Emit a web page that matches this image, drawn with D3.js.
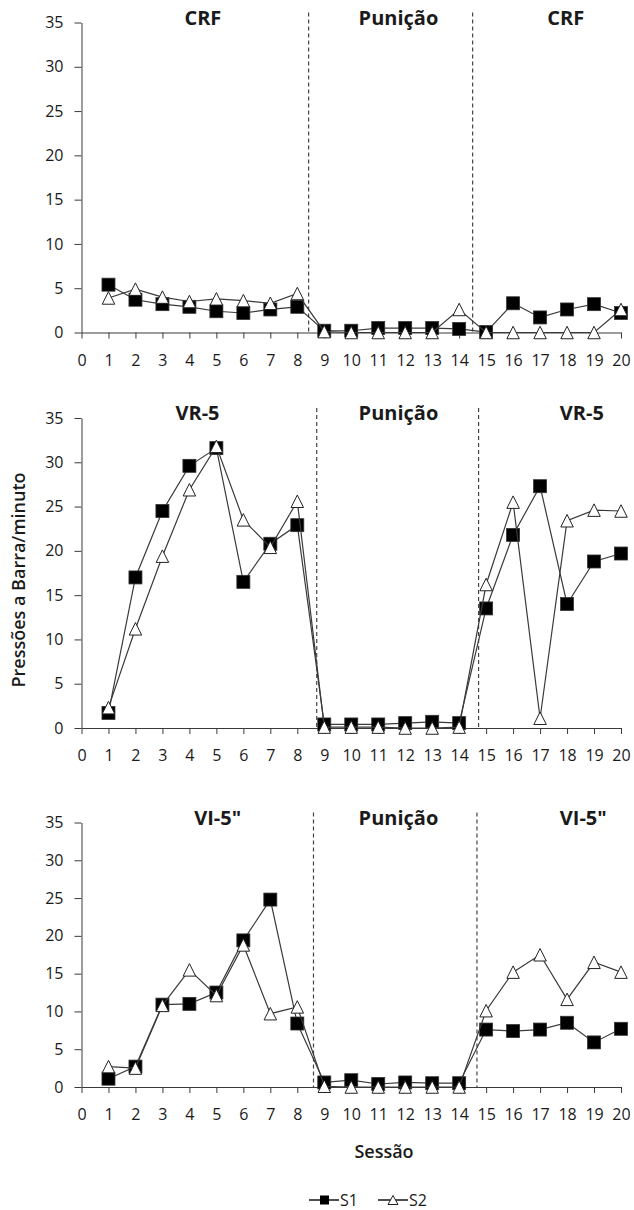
<!DOCTYPE html>
<html>
<head>
<meta charset="utf-8">
<script src="https://cdn.jsdelivr.net/npm/d3@7"></script>
<style>
  body { margin: 0; background: #fff; }
  text { font-family: "Open Sans", sans-serif; fill: #1a1a1a; }
</style>
</head>
<body>
<svg id="chart" width="634" height="1210"></svg>
<script>
// Sessions and axis ticks
const sessions = [1, 2, 3, 4, 5, 6, 7, 8, 9, 10, 11, 12, 13, 14, 15, 16, 17, 18, 19, 20];
const xTicks = [0, 1, 2, 3, 4, 5, 6, 7, 8, 9, 10, 11, 12, 13, 14, 15, 16, 17, 18, 19, 20];
const yTicks = [0, 5, 10, 15, 20, 25, 30, 35];

// Panel 1: CRF / Punição / CRF
const crfTitles = ["CRF", "Punição", "CRF"];
const crfS1 = [5.4, 3.7, 3.2, 2.9, 2.4, 2.2, 2.6, 2.9, 0.2, 0.2, 0.5, 0.5, 0.5, 0.4, 0.05, 3.3, 1.7, 2.6, 3.2, 2.2];
const crfS2 = [3.9, 4.9, 4.0, 3.5, 3.8, 3.6, 3.3, 4.4, 0.1, 0, 0, 0, 0, 2.6, 0, 0, 0, 0, 0, 2.6];

// Panel 2: VR-5 / Punição / VR-5
const vrTitles = ["VR-5", "Punição", "VR-5"];
const vrS1 = [1.7, 17.0, 24.5, 29.6, 31.6, 16.5, 20.8, 22.9, 0.4, 0.4, 0.4, 0.55, 0.7, 0.55, 13.5, 21.8, 27.3, 14.0, 18.8, 19.7];
const vrS2 = [2.3, 11.2, 19.4, 26.9, 31.8, 23.5, 20.4, 25.6, 0.1, 0.1, 0.1, 0, 0, 0.1, 16.2, 25.5, 1.1, 23.4, 24.6, 24.5];

// Panel 3: VI-5" / Punição / VI-5"
const viTitles = ["VI-5\"", "Punição", "VI-5\""];
const viS1 = [1.1, 2.7, 10.9, 11.0, 12.5, 19.4, 24.8, 8.4, 0.6, 0.9, 0.4, 0.6, 0.5, 0.5, 7.6, 7.4, 7.6, 8.5, 5.9, 7.7];
const viS2 = [2.7, 2.5, 10.8, 15.5, 12.1, 18.8, 9.7, 10.6, 0.1, 0, 0, 0, 0, 0, 10.1, 15.2, 17.5, 11.6, 16.5, 15.2];

const seriesNames = ["S1", "S2"];

// Layout of the three stacked panels (phase lines and titles in session units)
const panels = [
  { titles: crfTitles, s1: crfS1, s2: crfS2, top: 22.5, bottom: 332.5, breaks: [8.42, 14.5], titleX: [4.5, 11.75, 17.95] },
  { titles: vrTitles, s1: vrS1, s2: vrS2, top: 418, bottom: 728, breaks: [8.72, 14.72], titleX: [4.3, 11.75, 18.55] },
  { titles: viTitles, s1: viS1, s2: viS2, top: 822.5, bottom: 1087, breaks: [8.6, 14.66], titleX: [5.05, 11.75, 18.6] }
];

const svg = d3.select("#chart");
const x = d3.scaleLinear().domain([0, 20]).range([81.5, 621]);
const lineColor = "#3a3a3a";

function trianglePath(w, h) {
  return `M0,${-h / 2}L${w / 2},${h / 2}L${-w / 2},${h / 2}Z`;
}

panels.forEach(p => {
  const y = d3.scaleLinear().domain([0, 35]).range([p.bottom, p.top]);
  const g = svg.append("g");

  // Y axis
  const yAxis = g.append("g")
    .attr("transform", `translate(${x(0)},0)`)
    .call(d3.axisLeft(y).tickValues(yTicks).tickSize(7).tickPadding(11).tickSizeOuter(0));
  yAxis.select(".domain").attr("stroke", lineColor);
  yAxis.selectAll(".tick line").attr("stroke", lineColor);
  yAxis.selectAll("text").attr("font-size", 16).attr("font-family", "Open Sans").attr("fill", "#1a1a1a");

  // X axis
  const xAxis = g.append("g")
    .attr("transform", `translate(0,${y(0)})`)
    .call(d3.axisBottom(x).tickValues(xTicks).tickSize(6).tickPadding(16).tickSizeOuter(0));
  xAxis.select(".domain").attr("stroke", lineColor);
  xAxis.selectAll(".tick line").attr("stroke", lineColor);
  xAxis.selectAll("text").attr("font-size", 16).attr("font-family", "Open Sans").attr("fill", "#1a1a1a");

  // Phase change lines
  g.selectAll(".phase")
    .data(p.breaks)
    .enter()
    .append("line")
    .attr("x1", d => x(d)).attr("x2", d => x(d))
    .attr("y1", y(35) - 10).attr("y2", y(0))
    .attr("stroke", "#444")
    .attr("stroke-width", 1.2)
    .attr("stroke-dasharray", "4,3");

  // Phase titles
  g.selectAll(".title")
    .data(p.titles)
    .enter()
    .append("text")
    .attr("x", (d, i) => x(p.titleX[i]))
    .attr("y", y(35) + 2)
    .attr("text-anchor", "middle")
    .attr("font-size", 20)
    .attr("font-weight", "bold")
    .attr("fill", "#111")
    .text(d => d);

  const line = d3.line()
    .x((d, i) => x(sessions[i]))
    .y(d => y(d));

  // S1: black squares
  g.append("path")
    .datum(p.s1)
    .attr("d", line)
    .attr("fill", "none")
    .attr("stroke", lineColor)
    .attr("stroke-width", 1.2);
  g.selectAll(".s1")
    .data(p.s1)
    .enter()
    .append("rect")
    .attr("x", (d, i) => x(sessions[i]) - 6.5)
    .attr("y", d => y(d) - 6.5)
    .attr("width", 13)
    .attr("height", 13)
    .attr("fill", "#000")
    .attr("stroke", "#333")
    .attr("stroke-width", 0.8);

  // S2: open triangles
  g.append("path")
    .datum(p.s2)
    .attr("d", line)
    .attr("fill", "none")
    .attr("stroke", lineColor)
    .attr("stroke-width", 1.2);
  g.selectAll(".s2")
    .data(p.s2)
    .enter()
    .append("path")
    .attr("transform", (d, i) => `translate(${x(sessions[i])},${y(d)})`)
    .attr("d", trianglePath(12.5, 12.5))
    .attr("fill", "#fff")
    .attr("stroke", "#222")
    .attr("stroke-width", 1);
});

// Y axis title (middle panel)
svg.append("text")
  .attr("transform", "translate(25,580) rotate(-90)")
  .attr("text-anchor", "middle")
  .attr("font-size", 18)
  .attr("font-weight", 600)
  .attr("fill", "#222")
  .text("Pressões a Barra/minuto");

// X axis title
svg.append("text")
  .attr("x", 384)
  .attr("y", 1158)
  .attr("text-anchor", "middle")
  .attr("font-size", 18)
  .attr("font-weight", 600)
  .attr("fill", "#222")
  .text("Sessão");

// Legend
const legend = svg.append("g").attr("transform", "translate(309,1200)");
const legendItem = legend.selectAll("g")
  .data(seriesNames)
  .enter()
  .append("g")
  .attr("transform", (d, i) => `translate(${i * 69},0)`);
legendItem.append("line")
  .attr("x1", 0).attr("x2", 30)
  .attr("stroke", lineColor)
  .attr("stroke-width", 1.8);
legendItem.filter((d, i) => i === 0)
  .append("rect")
  .attr("x", 11).attr("y", -4.5)
  .attr("width", 9).attr("height", 9)
  .attr("fill", "#000");
legendItem.filter((d, i) => i === 1)
  .append("path")
  .attr("transform", "translate(15,0)")
  .attr("d", trianglePath(10, 9))
  .attr("fill", "#fff")
  .attr("stroke", "#222");
legendItem.append("text")
  .attr("x", 31)
  .attr("y", 6)
  .attr("font-size", 16)
  .text(d => d);
</script>
</body>
</html>
